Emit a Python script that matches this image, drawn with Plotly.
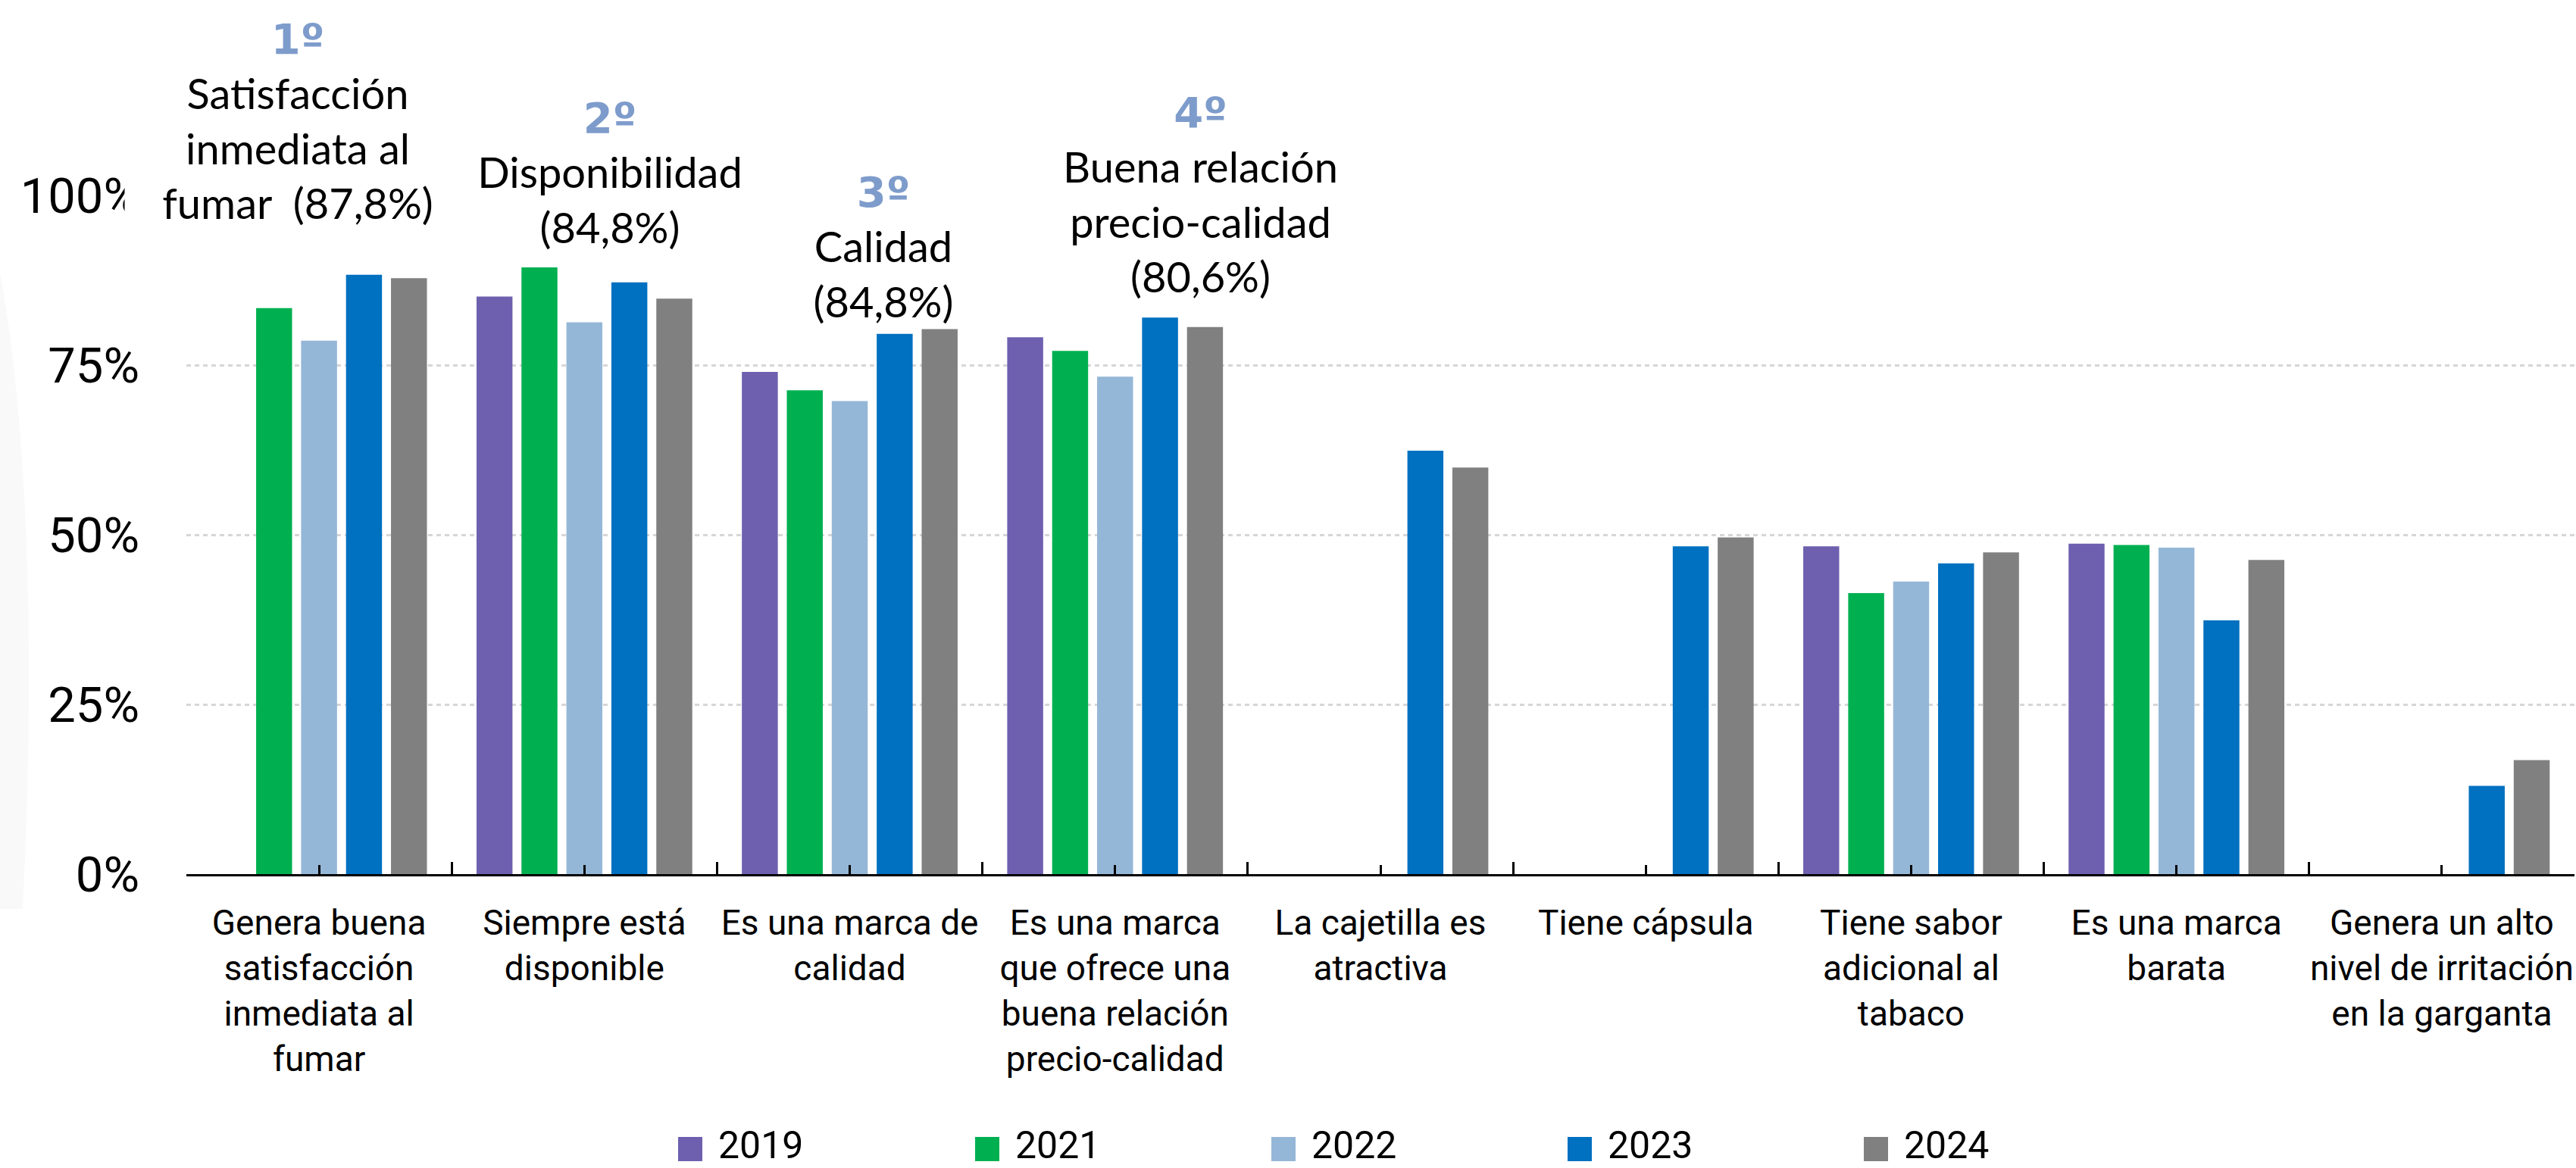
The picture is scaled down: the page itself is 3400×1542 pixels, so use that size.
import plotly.graph_objects as go

# ---- data -------------------------------------------------------------
categories = [
    "Genera buena<br>satisfacción<br>inmediata al<br>fumar",
    "Siempre está<br>disponible",
    "Es una marca de<br>calidad",
    "Es una marca<br>que ofrece una<br>buena relación<br>precio-calidad",
    "La cajetilla es<br>atractiva",
    "Tiene cápsula",
    "Tiene sabor<br>adicional al<br>tabaco",
    "Es una marca<br>barata",
    "Genera un alto<br>nivel de irritación<br>en la garganta",
]
years = ["2019", "2021", "2022", "2023", "2024"]
v2019 = [None, 85.1, 74.0, 79.1, None, None, 48.3, 48.7, None]
v2021 = [83.4, 89.4, 71.3, 77.1, None, None, 41.4, 48.5, None]
v2022 = [78.6, 81.3, 69.7, 73.3, None, None, 43.1, 48.1, None]
v2023 = [88.3, 87.2, 79.6, 82.0, 62.4, 48.3, 45.8, 37.4, 13.0]
v2024 = [87.8, 84.8, 80.3, 80.6, 59.9, 49.6, 47.4, 46.3, 16.8]
series = [v2019, v2021, v2022, v2023, v2024]
colors = ["#6E60AF", "#00B050", "#95B7D7", "#0070C0", "#808080"]

y_ticks = [0, 25, 50, 75, 100]
y_tick_labels = ["0%", "25%", "50%", "75%", "100%"]

rank_labels = ["1º", "2º", "3º", "4º"]
rank_texts = [
    "Satisfacción<br>inmediata al<br>fumar&nbsp; (87,8%)",
    "Disponibilidad<br>(84,8%)",
    "Calidad<br>(84,8%)",
    "Buena relación<br>precio-calidad<br>(80,6%)",
]

# ---- canvas geometry (pixels) ------------------------------------------
W, H = 3400, 1542
ML, MR, MT, MB = 246, 2, 258, 388
PW, PH = W - ML - MR, H - MT - MB


def px2x(px):
    return (px - ML) / PW


def py2y(py):
    return (H - MB - py) / PH


fig = go.Figure()
x_pos = list(range(len(categories)))
for name, vals, col in zip(years, series, colors):
    fig.add_trace(go.Bar(x=x_pos, y=vals, name=name, marker_color=col,
                         marker_line_width=0, showlegend=False))

# ---- callouts with white boxes ----------------------------------------
rank_color = "#7E9CCB"
callout_cx = [393, 805, 1166, 1584]
callout_w = [456, 410, 378, 443]
callout_top = [18, 122, 220, 115]
FS = 56
for lab, txt, cx, bw, top in zip(rank_labels, rank_texts, callout_cx, callout_w, callout_top):
    fig.add_annotation(
        xref="paper", yref="paper", x=px2x(cx), y=py2y(top),
        xanchor="center", yanchor="top", showarrow=False,
        text=(f"<b><span style='color:{rank_color};font-family:DejaVu Sans'>"
              f"{lab}</span></b><br>{txt}"),
        font=dict(family="Lato", size=FS, color="black"),
        align="center", width=bw, bgcolor="white", borderpad=0,
    )

# ---- legend drawn as swatches + labels --------------------------------
leg_x = [895, 1287, 1678, 2069, 2460]
for name, col, lx in zip(years, colors, leg_x):
    fig.add_shape(type="rect", xref="paper", yref="paper",
                  x0=px2x(lx), x1=px2x(lx + 32), y0=py2y(1533), y1=py2y(1501),
                  fillcolor=col, line_width=0)
    fig.add_annotation(xref="paper", yref="paper", x=px2x(lx + 52), y=py2y(1512),
                       xanchor="left", yanchor="middle", showarrow=False, borderpad=0,
                       text=name, font=dict(family="Roboto", size=50, color="black"))

# faint shading along the left edge
fig.add_shape(type="path", xref="paper", yref="paper", layer="below",
              path=(f"M {px2x(0)},{py2y(360)} C {px2x(30)},{py2y(520)} "
                    f"{px2x(50)},{py2y(800)} {px2x(30)},{py2y(1200)} "
                    f"L {px2x(0)},{py2y(1200)} Z"),
              fillcolor="#F9F9F9", line_width=0)

fig.update_layout(
    width=W, height=H,
    margin=dict(l=ML, r=MR, t=MT, b=MB, pad=0),
    paper_bgcolor="white", plot_bgcolor="white",
    barmode="group", bargap=0.153, bargroupgap=0.2,
    xaxis=dict(
        range=[-0.5, 8.5], tickmode="array", tickvals=x_pos, ticktext=categories,
        ticks="inside", ticklen=12, tickwidth=2.5, tickcolor="black",
        minor=dict(tickmode="array", tickvals=[i - 0.5 for i in range(len(categories) + 1)],
                   ticks="inside", ticklen=16, tickwidth=2.5, tickcolor="black"),
        showline=True, linecolor="black", linewidth=3,
        showgrid=False, zeroline=False,
        tickfont=dict(family="Roboto", size=46, color="black"),
        ticklabelstandoff=22, tickangle=0, ticklabeloverflow="allow",
    ),
    yaxis=dict(
        range=[0, 100], tickmode="array", tickvals=y_ticks, ticktext=y_tick_labels,
        showgrid=True, gridcolor="#D6D6D6", gridwidth=2.5, griddash="6px,5px",
        showline=False, zeroline=False, ticks="",
        tickfont=dict(family="Roboto", size=65, color="black"),
        ticklabelstandoff=61,
    ),
)

fig.write_html("out.html")
